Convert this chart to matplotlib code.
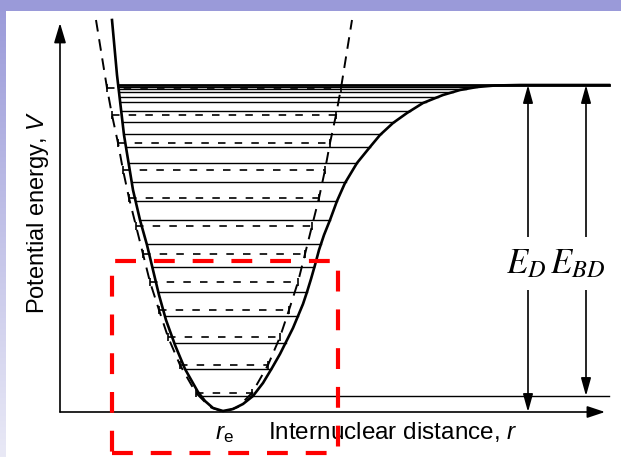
import numpy as np
import matplotlib.pyplot as plt
from matplotlib.patches import Rectangle

plt.rcParams['font.family'] = ['Liberation Sans', 'DejaVu Sans']
plt.rcParams['mathtext.fontset'] = 'custom'
plt.rcParams['mathtext.rm'] = 'Liberation Sans'
plt.rcParams['mathtext.it'] = 'Liberation Sans:italic'

# potential curve, arbitrary units (r along the axis, V above the well bottom)
morse_r = [52, 57, 64, 73, 80, 87, 93, 99, 106, 115, 125, 138, 145, 153, 163,
           173, 183, 193, 203, 212, 220, 227, 233, 238, 243, 247, 251, 255, 259,
           264, 270, 277, 285, 297, 310, 320, 333, 347, 363, 383, 400, 417, 435,
           460, 549]
morse_V = [392, 337, 277, 222, 192, 167, 142, 117, 92, 67, 43, 20, 11, 4, 1,
           3, 8, 16, 29, 44, 58, 72, 84, 96, 108, 120, 133, 147, 162,
           177, 192, 211, 229, 249, 265, 277, 289, 299, 309, 317, 322, 325, 326.5,
           327, 327]

# harmonic (parabolic) approximation
harm_r = [36, 47, 52, 58, 63, 69, 76, 83, 90, 99, 108, 120, 136, 150, 164,
          178, 192, 208, 220, 229, 238, 245, 252, 259, 265, 270, 276, 281, 292]
harm_V = [392, 324, 297, 269, 242, 214, 186, 158, 130, 102, 75, 47, 19, 5, 0,
          5, 19, 47, 75, 102, 130, 158, 186, 214, 242, 269, 297, 324, 392]

# vibrational levels
morse_levels = [16, 43, 69, 96, 120, 145, 168, 192, 211, 230, 249, 265, 278,
                290, 301, 310, 315, 320, 323, 325]
harm_levels = [19, 47, 75, 102, 130, 158, 186, 214, 242, 269, 297, 324]
D_e = 327
r_ED = 468
r_EBD = 526

fig = plt.figure(figsize=(6.21, 4.57), dpi=100)

# purple frame: flat band on top, fading strip on the left
bg = fig.add_axes([0, 0, 6 / 621, 1])
grad = np.linspace(0, 1, 256).reshape(-1, 1)
bg.imshow(grad, aspect='auto', cmap=plt.matplotlib.colors.LinearSegmentedColormap.from_list(
    'edge', ['#9a9ad9', '#e9e9f6']), extent=[0, 1, 0, 1], origin='upper')
bg.axis('off')
fig.patches.append(Rectangle((0, 1 - 11 / 457), 1, 11 / 457, transform=fig.transFigure,
                             facecolor='#9a9ad9', edgecolor='none', zorder=5))

ax = fig.add_axes([6 / 621, 0, 1 - 6 / 621, 1 - 11 / 457])
ax.set_xlim(-60 + 6, 561)
ax.set_ylim(-45, 412 - 11)
ax.axis('off')

# branches of the curve for level end points
imin = int(np.argmin(morse_V))
left_r, left_V = morse_r[:imin + 1][::-1], morse_V[:imin + 1][::-1]
right_r, right_V = morse_r[imin:-2], morse_V[imin:-2]
hmin = int(np.argmin(harm_V))
hleft_r, hleft_V = harm_r[:hmin + 1][::-1], harm_V[:hmin + 1][::-1]
hright_r, hright_V = harm_r[hmin:], harm_V[hmin:]

for v in morse_levels:
    a = np.interp(v, left_V, left_r)
    b = np.interp(v, right_V, right_r)
    if v == morse_levels[0]:
        b = 549
    ax.plot([a, b], [v, v], color='black', lw=1.0)

for v in harm_levels:
    a = np.interp(v, hleft_V, hleft_r)
    b = np.interp(v, hright_V, hright_r)
    ax.plot([a, b], [v, v], color='black', lw=1.2, linestyle=(0, (4.5, 5.5)))
    ax.plot([a, b], [v, v], color='black', lw=0, marker='|', markersize=6, mew=1.2)

ax.plot(harm_r, harm_V, color='black', lw=1.4, linestyle=(0, (6, 4)))
ax.plot(morse_r, morse_V, color='black', lw=1.9)
ax.plot([np.interp(D_e, left_V, left_r), 549], [D_e, D_e], color='black', lw=2.0)

# axes with arrow heads
ax.annotate('', xy=(545, 0), xytext=(0, 0),
            arrowprops=dict(arrowstyle='-|>,head_length=0.9,head_width=0.3',
                            mutation_scale=12, lw=1.2, color='black',
                            shrinkA=0, shrinkB=0))
ax.annotate('', xy=(0, 389), xytext=(0, 0),
            arrowprops=dict(arrowstyle='-|>,head_length=1.0,head_width=0.3',
                            mutation_scale=12, lw=1.2, color='black',
                            shrinkA=0, shrinkB=0))

# dissociation energies
for r, lo in [(r_ED, 0), (r_EBD, morse_levels[0])]:
    ax.annotate('', xy=(r, lo), xytext=(r, D_e),
                arrowprops=dict(arrowstyle='<|-|>,head_length=0.9,head_width=0.25',
                                mutation_scale=12, lw=1.2, color='black',
                                shrinkA=0, shrinkB=0))
ax.text(496, 139, r'$E_D\,E_{BD}$', math_fontfamily='stix', fontsize=25,
        ha='center', va='baseline',
        bbox=dict(boxstyle='square,pad=0.3', facecolor='white', edgecolor='none'))

ax.text(-22, 200, 'Potential energy, $V$', rotation=90, fontsize=17,
        ha='center', va='center')
ax.text(208, -27, 'Internuclear distance, $r$', fontsize=17.5, ha='left', va='baseline')
ax.text(164, -27, r'$r_\mathrm{e}$', fontsize=17.5, ha='center', va='baseline')

ax.add_patch(Rectangle((52, -41), 226, 192, fill=False, edgecolor='#ff0000', lw=3,
                       linestyle=(0, (5, 4.3)), zorder=10))

fig.savefig('out.png', dpi=100)
